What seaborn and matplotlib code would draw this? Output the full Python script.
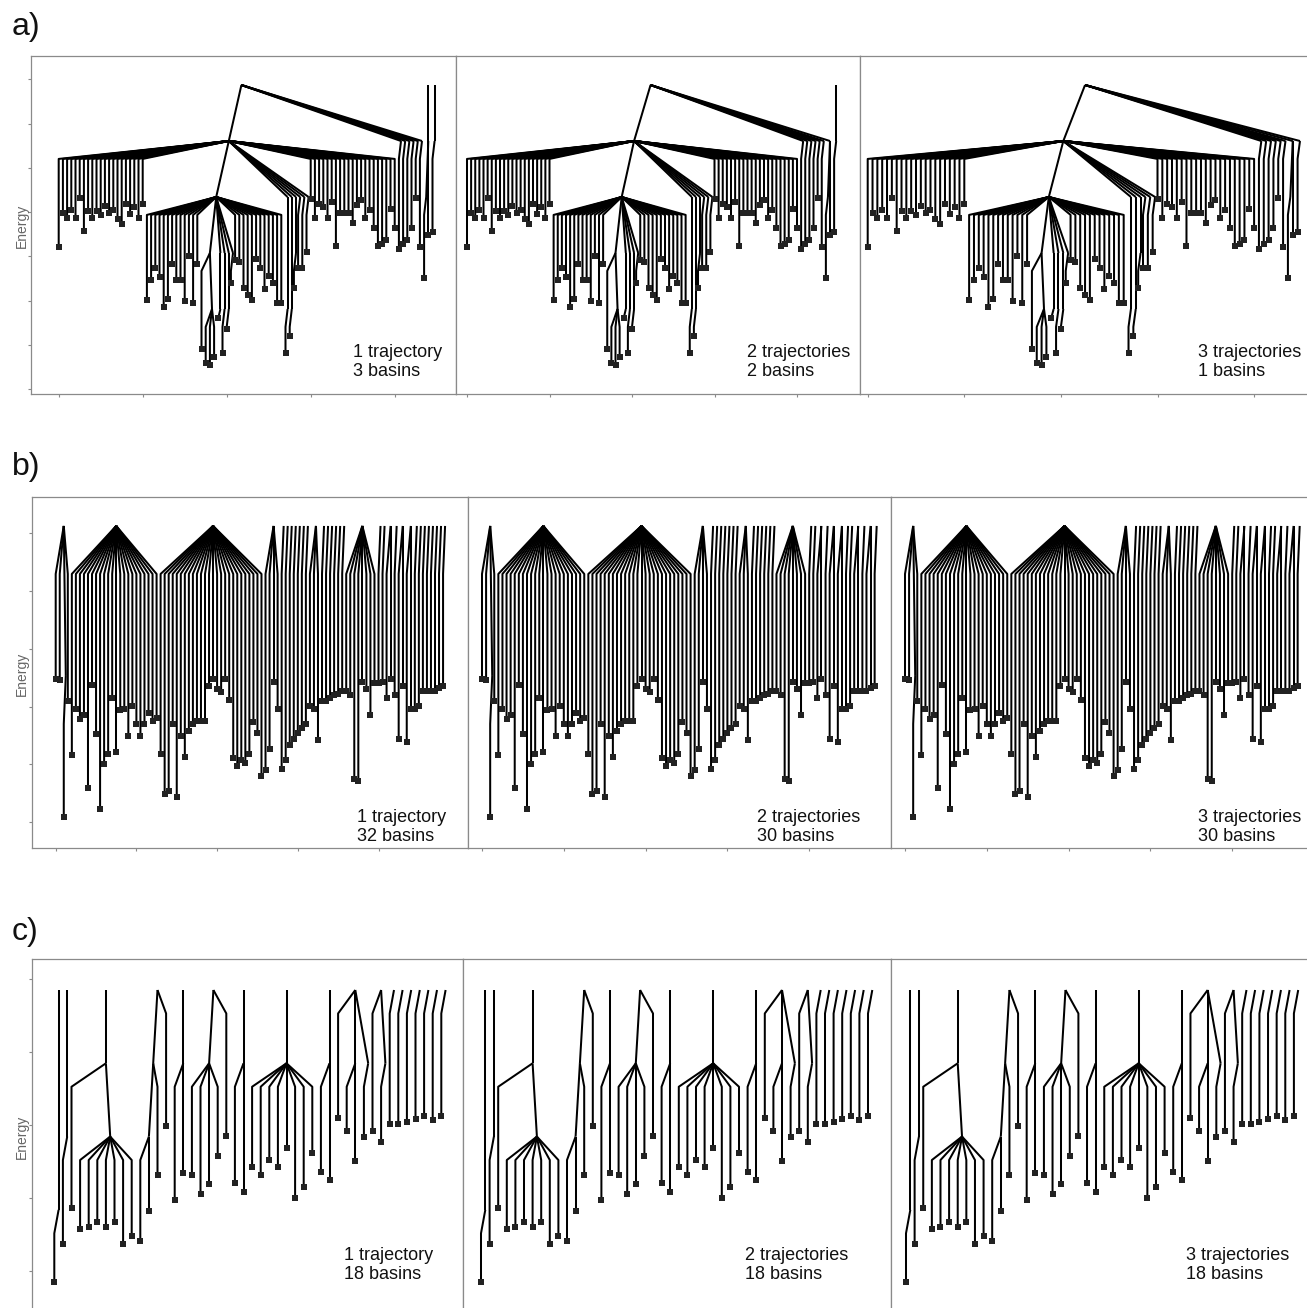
import numpy as np
import pandas as pd
import matplotlib
matplotlib.use("Agg")
import matplotlib.pyplot as plt
from matplotlib.collections import LineCollection
import seaborn as sns

# ---------------------------------------------------------------------------
# Disconnectivity-graph data.  Energies are given in units of the spacing
# between energy levels, with the top level at 0.  A float is a minimum that
# hangs directly from its parent node; a list is a node one level lower.
# ---------------------------------------------------------------------------

def chain(e, depth):
    """Minimum that stays isolated for `depth` levels below its parent."""
    node = e
    for _ in range(depth):
        node = [node]
    return node

# ---- a) -------------------------------------------------------------------
A_FAN_LEFT = [-2.89, -2.29, -2.37, -2.24, -2.38, -2.01, -2.60, -2.25, -2.38, -2.25, -2.32,
              -2.16, -2.28, -2.23, -2.39, -2.49, -2.13, -2.31, -2.18, -2.37, -2.13]
A_MID_LEFT = [-3.84, -3.49, -3.27, -3.43, -3.96, -3.83, -3.20, -3.49, -3.49, -3.85,
              -3.05, -3.89, -3.20]
A_MID_DEEP_TOP = -4.72
A_MID_DEEP_FAN = [-4.96, -5.00, -4.85]
A_MID_CHAINS = [-4.16, -4.79, -4.36, -3.54]
A_MID_CHAIN_DEPTH = [2, 2, 2, 1]
A_MID_RIGHT = [-3.13, -3.16, -3.63, -3.75, -3.84, -3.11, -3.27, -3.65, -3.41, -3.54,
               -3.90, -3.90]
A_SIDE_CHAINS = [-4.79, -4.48, -3.62, -3.27, -3.26, -2.99]
A_SIDE_CHAIN_DEPTH = [3, 3, 2, 1, 1, 1]
A_FAN_RIGHT = [-2.04, -2.38, -2.13, -2.17, -2.38, -2.09, -2.88, -2.29, -2.29, -2.29, -2.47,
               -2.14, -2.05, -2.38, -2.23, -2.56, -2.88, -2.84, -2.76, -2.22, -2.56]
A_TOP_CHAINS = [-2.92, -2.84, -2.76, -2.56, -2.01, -2.89]
A_EXTRA_PAIR = [-3.45, -2.68]
A_EXTRA_SINGLE = -2.62

# ---- b) -------------------------------------------------------------------
B_GROUP1 = [-1.02, -1.03, -1.94, -1.17]
B_FAN1 = [-1.53, -1.22, -1.29, -1.26, -1.75, -1.06, -1.39, -1.89, -1.59, -1.52, -1.15,
          -1.51, -1.23, -1.22, -1.40, -1.20, -1.32, -1.40, -1.32, -1.25, -1.30, -1.28]
B_FAN2 = [-1.52, -1.79, -1.77, -1.32, -1.81, -1.40, -1.54, -1.37, -1.32, -1.30, -1.30,
          -1.30, -1.07, -1.02, -1.09, -1.11, -1.02, -1.16, -1.55, -1.60, -1.56, -1.58,
          -1.52, -1.31, -1.38, -1.67]
B_GROUP4 = [-1.63, -1.49, -1.04, -1.22]
B_SINGLES1 = [-1.62, -1.56, -1.46, -1.42, -1.38, -1.35, -1.32]
B_GROUP6 = [-1.20, -1.22, -1.43]
B_SINGLES2 = [-1.17, -1.17, -1.15, -1.13, -1.12, -1.10]
B_GROUP8 = [-1.10, -1.13, -1.69, -1.70, -1.04, -1.09, -1.26, -1.05]
B_TAIL = [-1.05, -1.04, -1.15, -1.02, -1.13, -1.42, -1.07, -1.44, -1.22, -1.22, -1.20,
          -1.10, -1.10, -1.10, -1.10, -1.08, -1.07]
B_TAIL_SIZES_1 = [1, 1, 2, 1, 2, 2, 1, 1, 1, 1, 1, 1, 1, 1]
B_TAIL_SIZES_2 = [1, 1, 2, 1, 2, 2, 1, 1, 2, 1, 2, 1]

# ---- c) -------------------------------------------------------------------
C_DEEP1 = -3.98
C_DEEP2 = -3.46
C_COMP3 = [[-2.97, [-3.26, -3.24, -3.17, -3.24, -3.17, -3.46, -3.35]]]
C_COMP4 = [[[-3.43, -3.02], -2.52], -1.85]
C_COMP5 = [[-2.86, -2.50]]
C_COMP6 = [[-2.52, -2.78, -2.65, -2.26], -1.99]
C_COMP7 = [[-2.64, -2.75]]
C_COMP8 = [[-2.41, -2.52, -2.32, -2.41, -2.15, -2.84, -2.69, -2.23]]
C_COMP9 = [[-2.48, -2.59]]
C_COMP10 = [-1.74, [-1.92, -2.33], [-2.00]]
C_COMP11 = [-1.93, [-2.08]]
C_SINGLES = [-1.83, -1.83, -1.80, -1.76, -1.72, -1.77, -1.72]

PANEL_TEXT = [
    ["1 trajectory\n3 basins", "2 trajectories\n2 basins", "3 trajectories\n1 basins"],
    ["1 trajectory\n32 basins", "2 trajectories\n30 basins", "3 trajectories\n30 basins"],
    ["1 trajectory\n18 basins", "2 trajectories\n18 basins", "3 trajectories\n18 basins"],
]
ROW_LABELS = ["a)", "b)", "c)"]

# ---------------------------------------------------------------------------
# tree assembly
# ---------------------------------------------------------------------------

def row_a_trees():
    l2 = (A_MID_LEFT
          + [[A_MID_DEEP_TOP, A_MID_DEEP_FAN]]
          + [chain(e, d) for e, d in zip(A_MID_CHAINS, A_MID_CHAIN_DEPTH)]
          + A_MID_RIGHT)
    l1 = (A_FAN_LEFT + [l2]
          + [chain(e, d) for e, d in zip(A_SIDE_CHAINS, A_SIDE_CHAIN_DEPTH)]
          + A_FAN_RIGHT)
    main = [l1] + [chain(e, 1) for e in A_TOP_CHAINS]
    pair = [[chain(A_EXTRA_PAIR[0], 1), A_EXTRA_PAIR[1]]]
    single = chain(A_EXTRA_SINGLE, 2)
    p1 = [main, pair, single]
    p2 = [main + pair, single]
    p3 = [main + pair + [single[0]]]
    return [p1, p2, p3]


def split_tail(values, sizes):
    out, i = [], 0
    for s in sizes:
        grp = values[i:i + s]
        out.append(grp if s > 1 else [grp[0]])
        i += s
    return out


def row_b_trees():
    g1 = [B_GROUP1[0], B_GROUP1[1], [B_GROUP1[2]], B_GROUP1[3]]
    head = [g1, list(B_FAN1), list(B_FAN2), list(B_GROUP4)]
    mid = ([[e] for e in B_SINGLES1] + [list(B_GROUP6)]
           + [[e] for e in B_SINGLES2] + [list(B_GROUP8)])
    p1 = head + mid + split_tail(B_TAIL, B_TAIL_SIZES_1)
    p2 = head + mid + split_tail(B_TAIL, B_TAIL_SIZES_2)
    return [p1, p2, p2]


def row_c_trees():
    comps = [chain(C_DEEP1, 4), chain(C_DEEP2, 3), C_COMP3, C_COMP4, C_COMP5, C_COMP6,
             C_COMP7, C_COMP8, C_COMP9, C_COMP10, C_COMP11] + [[e] for e in C_SINGLES]
    return [comps, comps, comps]

# ---------------------------------------------------------------------------
# layout (leaf i sits at x = i, a node sits at first leaf + n_leaves / 2)
# ---------------------------------------------------------------------------
EOFF = 0.32


def n_leaves(node):
    return 1 if not isinstance(node, list) else sum(n_leaves(c) for c in node)


def layout(components):
    segs, mins = [], []
    pos = [0]

    def place(node, depth):
        x = pos[0] + n_leaves(node) / 2.0
        e = -float(depth)
        for child in node:
            if isinstance(child, list):
                cx = place(child, depth + 1)
                segs.append([(x, e), (cx, e - 1.0)])
            else:
                lx = pos[0]
                pos[0] += 1
                bend = max(e - EOFF, child)
                segs.append([(x, e), (lx, bend), (lx, child)])
                mins.append((lx, child))
        return x

    for comp in components:
        place(comp, 0)
    return segs, pd.DataFrame(mins, columns=["x", "energy"])

# ---------------------------------------------------------------------------
# figure
# ---------------------------------------------------------------------------
sns.set_theme(style="white")
plt.rcParams["font.family"] = ["Liberation Sans", "DejaVu Sans"]

W, H = 1307, 1308
fig = plt.figure(figsize=(W / 100, H / 100), dpi=100)
SPINE = "#8a8a8a"


def add_box(x0, y0, x1, y1):
    return fig.add_axes([x0 / W, 1 - y1 / H, (x1 - x0) / W, (y1 - y0) / H])


ROWS = [
    dict(trees=row_a_trees(),
         boxes=[(30.7, 56, 455.7, 394), (455.7, 56, 860, 394), (860, 56, 1320, 394)],
         xmap=[(58.7, 4.2), (467, 4.125), (867.7, 4.83)],
         ylim=(-5.518, 0.518), yticks=0.102 - 0.791 * np.arange(8),
         text_y=362, text_x=[352.7, 746.7, 1198.3], label_y=27, energy_y=226),
    dict(trees=row_b_trees(),
         boxes=[(31.7, 496.7, 468, 847.7), (468, 496.7, 891, 847.7), (891, 496.7, 1320, 847.7)],
         xmap=[(55.7, 4.035), (482, 4.09), (905, 4.09)],
         ylim=(-2.145, 0.195), yticks=-0.049 - 0.385 * np.arange(6),
         text_y=827, text_x=[357.3, 757, 1198], label_y=467, energy_y=674),
    dict(trees=row_c_trees(),
         boxes=[(31.7, 959.3, 463, 1316), (463, 959.3, 891, 1316), (891, 959.3, 1320, 1316)],
         xmap=[(54.3, 8.6), (481, 8.6), (906, 8.62)],
         ylim=(-4.448, 0.419), yticks=0.146 - 0.995 * np.arange(5),
         text_y=1265, text_x=[344, 745, 1186], label_y=932, energy_y=1137),
]

for r, row in enumerate(ROWS):
    for p in range(3):
        x0, y0, x1, y1 = row["boxes"][p]
        ax = add_box(x0, y0, x1, y1)
        segs, mins = layout(row["trees"][p])
        ax.add_collection(LineCollection(segs, colors="black", linewidths=1.45))
        sns.scatterplot(data=mins, x="x", y="energy", marker="s", s=17, color="#222222",
                        linewidth=0, ax=ax, zorder=3, legend=False)
        xf, dx = row["xmap"][p]
        xlo, xhi = (x0 - xf) / dx, (x1 - xf) / dx
        ax.set_xticks([t for t in (0, 20, 40, 60, 80) if t <= xhi])
        if p == 0:
            ax.set_yticks(row["yticks"])
        else:
            ax.set_yticks([])
        ax.set_xlim(xlo, xhi)
        ax.set_ylim(*row["ylim"])
        ax.set_xticklabels([])
        ax.set_yticklabels([])
        ax.set_xlabel("")
        ax.set_ylabel("")
        ax.tick_params(direction="out", length=2.4, width=0.8, color=SPINE,
                       left=(p == 0), bottom=True)
        for s in ax.spines.values():
            s.set_color(SPINE)
            s.set_linewidth(0.9)
        fig.text(row["text_x"][p] / W, 1 - row["text_y"] / H, PANEL_TEXT[r][p],
                 ha="left", va="center", fontsize=13, color="#111111", linespacing=1.2)
    fig.text(12 / W, 1 - row["label_y"] / H, ROW_LABELS[r], ha="left", va="center",
             fontsize=23, color="#111111")
    fig.text(22 / W, 1 - row["energy_y"] / H, "Energy", rotation=90, ha="center",
             va="center", fontsize=10, color="#666666")

fig.savefig("out.png", dpi=100)
